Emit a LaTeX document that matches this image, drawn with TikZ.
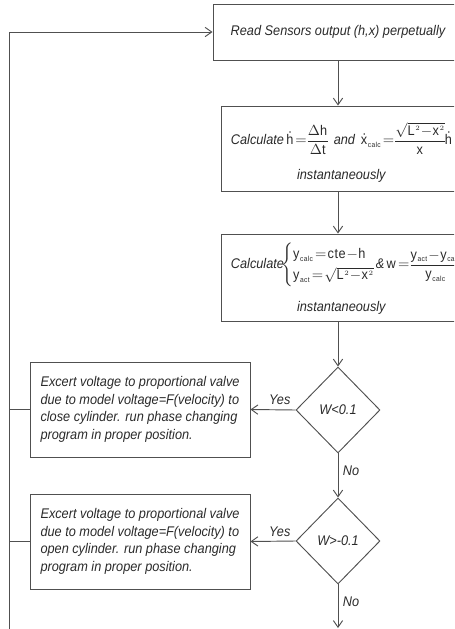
\documentclass[tikz,border=0pt]{standalone}
\usepackage{amsmath}
\usepackage{fontspec}
\setmainfont{Liberation Sans}[FakeStretch=0.91]
\usetikzlibrary{arrows.meta, shapes.geometric, positioning, calc}

\definecolor{ln}{HTML}{505050}
\definecolor{tx}{HTML}{2a2a2a}

% small scripts, tight spacing in the formulas
\DeclareMathSizes{10.5}{10.5}{5.5}{5}
\newcommand{\tightmath}{\thickmuskip=1.5mu\medmuskip=0.5mu\thinmuskip=1mu\nulldelimiterspace=0pt}
% first line of a formula box: fixed width, starts near the left edge
\newcommand{\formline}[1]{\makebox[170pt][l]{\hspace*{4.7pt}#1}}

\begin{document}
\begin{tikzpicture}[x=0.75pt, y=-0.75pt,
	>={Straight Barb[length=5pt, width=7pt]},
	every node/.style={font=\itshape\fontsize{10.5}{13.1}\selectfont\tightmath, text=tx},
	stepbox/.style={draw=ln, line width=0.7pt, align=center, inner sep=0pt},
	decision/.style={draw=ln, line width=0.7pt, diamond, aspect=1, inner sep=0pt,
		minimum width=63pt, minimum height=64.5pt},
	action/.style={draw=ln, line width=0.7pt, align=left, inner sep=0pt,
		minimum width=165pt, minimum height=71.25pt},
	flow/.style={draw=ln, line width=0.7pt, ->}]
	
	\clip (0,0) rectangle (454,629);
	
	% main column
	\node[stepbox, minimum width=187.5pt, minimum height=42pt] (read) at (338,32)
		{Read Sensors output (h,x) perpetually};
	\node[stepbox, minimum width=175.5pt, minimum height=63.75pt] (calch) at (338,148.5)
		{\formline{\rule{0pt}{23pt}Calculate\,$\dot{\mathrm h}=\dfrac{\Delta\mathrm h}{\Delta\mathrm t}$\ \,and\,
		$\dot{\mathrm x}_{\mathrm{calc}}=\dfrac{\sqrt{\mathrm L^2-\mathrm x^2}}{\mathrm x}\dot{\mathrm h}$}\\[10pt]
		\hspace*{5pt}instantaneously};
	\node[stepbox, minimum width=175.5pt, minimum height=65.25pt] (calcw) at (338,277.5)
		{\formline{\rule{0pt}{21pt}Calculate\hspace{-2pt}$\begin{cases}\mathrm y_{\mathrm{calc}}=\mathrm{cte}-\mathrm h\\
		\mathrm y_{\mathrm{act}}=\sqrt{\mathrm L^2-\mathrm x^2}\end{cases}$\hspace{-9pt}\&\,%
		$\mathrm w=\dfrac{\mathrm y_{\mathrm{act}}-\mathrm y_{\mathrm{calc}}}{\mathrm y_{\mathrm{calc}}}$}\\[9.4pt]
		\hspace*{5pt}instantaneously};
	\node[decision] (testlo) at (338,410) {W<0.1};
	\node[decision] (testhi) at (338,541) {W>-0.1};
	
	% valve actions on the left
	\node[action] (close) at (140,409.5)
		{Excert voltage to proportional valve\\
		due to model voltage=F(velocity) to\\
		close cylinder. run phase changing\\
		program in proper position.};
	\node[action] (open) at (140,541.5)
		{Excert voltage to proportional valve\\
		due to model voltage=F(velocity) to\\
		open cylinder. run phase changing\\
		program in proper position.};
	
	\coordinate (loopbot) at (9,640);
	\coordinate (exit) at (338,628);
	
	\draw[flow] (read) -- (calch);
	\draw[flow] (calch) -- (calcw);
	\draw[flow] (calcw) -- (testlo);
	\draw[flow] (testlo.west) -- node[above, pos=0.35] {Yes} (close.east);
	\draw[flow] (testlo.south) -- node[right, pos=0.4] {No} (testhi.north);
	\draw[flow] (testhi.west) -- node[above, pos=0.35] {Yes} (open.east);
	\draw[flow] (testhi.south) -- node[right, pos=0.4] {No} (exit);
	
	% return line
	\draw[flow] (loopbot) |- (read.west);
	\draw[draw=ln, line width=0.7pt] (close.west) -- (close.west -| loopbot);
	\draw[draw=ln, line width=0.7pt] (open.west) -- (open.west -| loopbot);
\end{tikzpicture}
\end{document}
